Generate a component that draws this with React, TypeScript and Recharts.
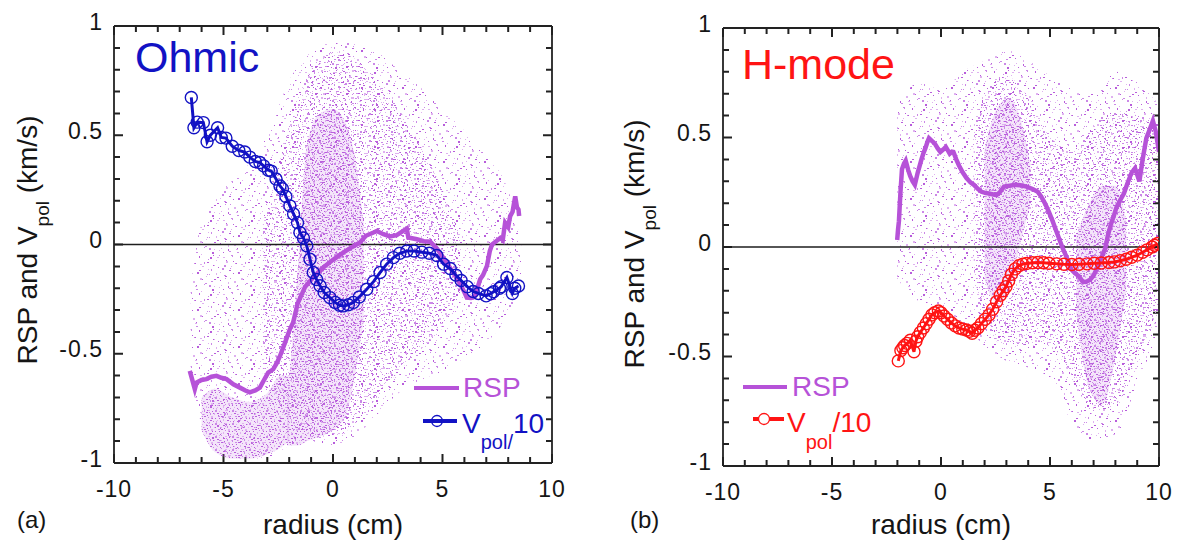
import { Area, ComposedChart, Legend, Line, ReferenceLine, XAxis, YAxis } from "recharts";

type Pt = [number, number];
type Band = [number, number, number]; // x, low, high

// ---- axes ----
const X_TICKS = [-10, -9, -8, -7, -6, -5, -4, -3, -2, -1, 0, 1, 2, 3, 4, 5, 6, 7, 8, 9, 10];
const Y_TICKS = [-1, -0.9, -0.8, -0.7, -0.6, -0.5, -0.4, -0.3, -0.2, -0.1, 0, 0.1, 0.2, 0.3, 0.4, 0.5, 0.6, 0.7, 0.8, 0.9, 1];
const X_LABELS = [-10, -5, 0, 5, 10];
const Y_LABELS = [-1, -0.5, 0, 0.5, 1];

// ---- (a) Ohmic ----
const ohmicVpol: Pt[] = [
  [-6.47, 0.673], [-6.35, 0.534], [-6.2, 0.56], [-5.92, 0.558], [-5.75, 0.47], [-5.6, 0.5],
  [-5.27, 0.534], [-5.1, 0.49], [-4.89, 0.487], [-4.6, 0.45], [-4.3, 0.43], [-4.03, 0.423],
  [-3.8, 0.4], [-3.55, 0.38], [-3.34, 0.375], [-3.17, 0.36], [-2.95, 0.34], [-2.82, 0.336],
  [-2.6, 0.3], [-2.42, 0.268], [-2.31, 0.255], [-2.15, 0.22], [-1.97, 0.177], [-1.8, 0.14],
  [-1.62, 0.1], [-1.51, 0.055], [-1.35, 0.03], [-1.2, -0.006], [-1.05, -0.067], [-0.9, -0.128],
  [-0.75, -0.16], [-0.59, -0.189], [-0.4, -0.22], [-0.14, -0.243], [0.1, -0.265], [0.3, -0.278],
  [0.47, -0.281], [0.7, -0.276], [0.93, -0.265], [1.2, -0.24], [1.54, -0.205], [1.85, -0.17],
  [2.15, -0.128], [2.45, -0.09], [2.76, -0.06], [3.05, -0.04], [3.37, -0.03], [3.7, -0.03],
  [4.06, -0.035], [4.4, -0.04], [4.74, -0.05], [5.05, -0.09], [5.35, -0.11], [5.61, -0.14],
  [5.85, -0.165], [6.13, -0.193], [6.4, -0.215], [6.64, -0.224], [6.99, -0.235], [7.2, -0.225],
  [7.33, -0.216], [7.6, -0.2], [7.68, -0.193], [7.94, -0.151], [8.19, -0.224], [8.3, -0.2],
  [8.47, -0.19],
];

const ohmicRsp: Pt[] = [
  [-6.54, -0.578], [-6.31, -0.662], [-6.23, -0.632], [-6.0, -0.62], [-5.78, -0.616], [-5.55, -0.605],
  [-5.32, -0.601], [-5.1, -0.61], [-4.86, -0.616], [-4.55, -0.64], [-4.25, -0.655], [-4.0, -0.668],
  [-3.8, -0.677], [-3.55, -0.668], [-3.34, -0.655], [-3.15, -0.62], [-2.96, -0.586], [-2.73, -0.571],
  [-2.55, -0.54], [-2.42, -0.51], [-2.19, -0.449], [-1.97, -0.388], [-1.82, -0.357], [-1.62, -0.272],
  [-1.27, -0.193], [-0.9, -0.15], [-0.5, -0.11], [0.0, -0.07], [0.5, -0.035], [0.9, -0.01],
  [1.23, 0.009], [1.5, 0.04], [1.85, 0.055], [2.0, 0.062], [2.3, 0.047], [2.6, 0.037],
  [2.91, 0.043], [3.21, 0.062], [3.37, 0.073], [3.44, 0.032], [3.83, 0.024], [4.15, 0.015],
  [4.44, 0.013], [4.75, -0.019], [5.1, -0.07], [5.5, -0.13], [5.8, -0.18], [5.96, -0.21],
  [6.11, -0.243], [6.3, -0.245], [6.47, -0.24], [6.72, -0.159], [6.85, -0.14], [7.03, -0.098],
  [7.16, -0.03], [7.26, 0.0], [7.45, 0.015], [7.64, 0.03], [7.75, 0.02], [7.86, 0.1],
  [8.0, 0.08], [8.09, 0.13], [8.2, 0.15], [8.32, 0.22], [8.4, 0.17], [8.47, 0.16], [8.5, 0.13],
];

// scatter cloud of RSP samples, read as envelopes of roughly equal dot density
const ohmicCloudSparse: Band[] = [
  [-6.5, -0.6, -0.2], [-6, -0.82, 0.1], [-5, -0.95, 0.25], [-4, -0.98, 0.35], [-3, -0.98, 0.5],
  [-2, -0.92, 0.75], [-1, -0.9, 0.88], [0, -0.92, 0.93], [1, -0.88, 0.92], [2, -0.78, 0.88],
  [3, -0.68, 0.8], [4, -0.62, 0.72], [5, -0.58, 0.62], [6, -0.52, 0.52], [7, -0.45, 0.4],
  [8, -0.32, 0.25], [8.6, -0.2, 0.0],
];
const ohmicCloudMedium: Band[] = [
  [-3.2, -0.6, 0.1], [-2.5, -0.72, 0.35], [-2, -0.8, 0.55], [-1, -0.88, 0.8], [0, -0.88, 0.88],
  [1, -0.82, 0.85], [2, -0.7, 0.75], [3, -0.58, 0.62], [4, -0.48, 0.45], [5, -0.38, 0.25],
  [5.8, -0.22, 0.05],
];
const ohmicCloudCore: Band[] = [
  [-2.1, -0.92, -0.75], [-1.6, -0.92, -0.1], [-1.2, -0.9, 0.45], [-0.6, -0.88, 0.6],
  [0, -0.85, 0.62], [0.6, -0.78, 0.55], [1.0, -0.6, 0.4], [1.4, -0.35, 0.1],
];
const ohmicCloudBlob: Band[] = [
  [-6.0, -0.85, -0.7], [-5.4, -0.95, -0.66], [-4.6, -0.98, -0.7], [-3.8, -0.98, -0.72],
  [-3.0, -0.96, -0.68], [-2.4, -0.93, -0.6], [-2.0, -0.9, -0.6],
];

// ---- (b) H-mode ----
const hmodeVpol: Pt[] = [
  [-1.96, -0.52], [-1.84, -0.473], [-1.75, -0.46], [-1.67, -0.45], [-1.55, -0.44], [-1.41, -0.426],
  [-1.24, -0.478], [-1.15, -0.43], [-1.07, -0.41], [-0.95, -0.39], [-0.81, -0.37], [-0.68, -0.35],
  [-0.55, -0.33], [-0.42, -0.31], [-0.29, -0.3], [-0.12, -0.292], [0.0, -0.3], [0.14, -0.315],
  [0.3, -0.33], [0.48, -0.347], [0.65, -0.36], [0.83, -0.37], [1.0, -0.375], [1.17, -0.379],
  [1.3, -0.385], [1.43, -0.394], [1.55, -0.38], [1.69, -0.37], [1.85, -0.35], [2.03, -0.33],
  [2.2, -0.31], [2.37, -0.284], [2.55, -0.25], [2.72, -0.22], [2.85, -0.2], [2.98, -0.181],
  [3.1, -0.155], [3.23, -0.125], [3.4, -0.1], [3.58, -0.085], [3.75, -0.078], [3.92, -0.075],
  [4.2, -0.072], [4.44, -0.071], [4.7, -0.072], [4.95, -0.074], [5.3, -0.077], [5.64, -0.079],
  [6.0, -0.08], [6.33, -0.079], [6.7, -0.077], [7.02, -0.074], [7.35, -0.073], [7.7, -0.071],
  [7.95, -0.068], [8.22, -0.063], [8.5, -0.056], [8.74, -0.047], [9.0, -0.037], [9.25, -0.024],
  [9.45, -0.013], [9.68, 0.0], [9.8, 0.008], [9.94, 0.016],
];

const hmodeRsp: Pt[] = [
  [-2.01, 0.032], [-1.97, 0.08], [-1.93, 0.118], [-1.86, 0.25], [-1.79, 0.355], [-1.7, 0.38],
  [-1.62, 0.394], [-1.5, 0.35], [-1.41, 0.323], [-1.3, 0.3], [-1.2, 0.284], [-1.07, 0.339],
  [-0.98, 0.37], [-0.89, 0.402], [-0.8, 0.43], [-0.72, 0.45], [-0.62, 0.48], [-0.55, 0.497],
  [-0.42, 0.485], [-0.29, 0.473], [-0.15, 0.45], [-0.03, 0.434], [0.1, 0.445], [0.22, 0.457],
  [0.32, 0.44], [0.4, 0.426], [0.5, 0.435], [0.57, 0.434], [0.7, 0.4], [0.83, 0.371],
  [1.0, 0.34], [1.17, 0.315], [1.35, 0.295], [1.51, 0.284], [1.7, 0.265], [1.86, 0.252],
  [2.03, 0.247], [2.2, 0.244], [2.4, 0.24], [2.55, 0.237], [2.7, 0.25], [2.89, 0.276],
  [3.15, 0.28], [3.4, 0.284], [3.65, 0.282], [3.92, 0.276], [4.2, 0.265], [4.44, 0.252],
  [4.6, 0.23], [4.78, 0.197], [4.95, 0.16], [5.12, 0.118], [5.3, 0.07], [5.47, 0.024],
  [5.6, -0.01], [5.73, -0.039], [5.85, -0.07], [5.98, -0.103], [6.15, -0.12], [6.33, -0.134],
  [6.5, -0.158], [6.65, -0.16], [6.84, -0.15], [7.0, -0.13], [7.19, -0.09], [7.35, -0.05],
  [7.53, -0.008], [7.65, 0.05], [7.79, 0.103], [7.92, 0.14], [8.05, 0.181], [8.2, 0.21],
  [8.39, 0.244], [8.55, 0.29], [8.74, 0.339], [8.9, 0.36], [9.1, 0.3], [9.25, 0.4],
  [9.42, 0.497], [9.55, 0.53], [9.72, 0.576], [9.85, 0.528], [10.0, 0.434],
];

const hmodeCloudSparse: Band[] = [
  [-2, -0.15, 0.65], [-1, -0.25, 0.75], [0, -0.3, 0.72], [1, -0.35, 0.8], [2, -0.45, 0.85],
  [3, -0.52, 0.9], [4, -0.55, 0.85], [5, -0.6, 0.78], [6, -0.8, 0.72], [7, -0.88, 0.7],
  [8, -0.86, 0.8], [9, -0.62, 0.75], [10, -0.4, 0.65],
];
const hmodeCloudMedium: Band[] = [
  [1.5, -0.1, 0.55], [2, -0.35, 0.7], [3, -0.45, 0.78], [4, -0.45, 0.68], [5, -0.45, 0.5],
  [6, -0.6, 0.45], [7, -0.75, 0.55], [8, -0.72, 0.62], [9, -0.5, 0.6], [10, -0.3, 0.52],
];
const hmodeCloudCoreA: Band[] = [
  [2, -0.15, 0.45], [2.5, -0.25, 0.62], [3.1, -0.2, 0.68], [3.6, 0.0, 0.6], [4.1, 0.2, 0.38],
];
const hmodeCloudCoreB: Band[] = [
  [6.2, -0.3, 0.05], [6.8, -0.65, 0.2], [7.4, -0.72, 0.28], [8.0, -0.5, 0.28], [8.5, -0.2, 0.12],
];

// ---- style ----
const FONT = '"Liberation Sans", Arial, Helvetica, sans-serif';
const INK = "#151515";
const FRAME = "#222222";
const PURPLE = "#b652d8";
const DOT_TONES = ["#b85ddb", "#cb88e7", "#dfb1f0"];
const BLUE = "#1212c4";
const RED = "#ff1414";

// dot textures that fill the cloud envelopes: x, y, w, h, tone
type Dot = [number, number, number, number, number];
const SPARSE_TILE: Dot[] = [
  [2, 3, 2, 1, 0], [11, 1, 1, 1, 2], [19, 6, 2, 2, 1], [28, 2, 1, 1, 0], [36, 5, 2, 1, 2],
  [6, 10, 1, 2, 1], [15, 13, 1, 1, 2], [24, 11, 2, 1, 0], [33, 14, 1, 1, 1], [1, 17, 1, 1, 2],
  [9, 20, 2, 1, 0], [20, 19, 1, 1, 1], [29, 22, 2, 2, 2], [38, 20, 1, 1, 0], [4, 26, 2, 2, 1],
  [14, 28, 1, 1, 2], [23, 27, 1, 2, 0], [32, 30, 2, 1, 1], [8, 33, 1, 1, 0], [18, 35, 2, 1, 2],
  [27, 34, 1, 1, 1], [37, 32, 1, 1, 2],
];
const MEDIUM_TILE: Dot[] = [
  [1, 1, 2, 1, 0], [7, 2, 1, 1, 2], [12, 0, 1, 2, 1], [18, 3, 2, 1, 0], [24, 1, 1, 1, 2],
  [28, 5, 2, 2, 1], [3, 6, 1, 1, 0], [9, 7, 2, 1, 1], [15, 8, 1, 1, 2], [21, 7, 1, 2, 0],
  [26, 10, 1, 1, 1], [0, 11, 1, 1, 2], [5, 12, 2, 2, 0], [11, 13, 1, 1, 1], [17, 12, 2, 1, 0],
  [23, 14, 1, 1, 2], [29, 13, 1, 1, 1], [2, 17, 2, 1, 0], [8, 18, 1, 1, 2], [14, 17, 2, 1, 1],
  [20, 19, 1, 1, 0], [25, 18, 2, 1, 2], [30, 20, 1, 1, 1], [4, 22, 1, 2, 0], [10, 23, 1, 1, 1],
  [16, 22, 1, 1, 2], [22, 24, 2, 1, 0], [27, 25, 1, 1, 1], [6, 26, 1, 1, 2], [13, 26, 2, 1, 0],
  [19, 26, 1, 1, 1], [0, 24, 1, 1, 0], [13, 4, 1, 1, 1], [24, 21, 1, 1, 0], [7, 15, 1, 1, 1],
  [19, 16, 1, 1, 2],
];
const DENSE_TILE: Dot[] = [
  [0, 0, 2, 1, 0], [4, 1, 1, 1, 1], [7, 0, 2, 2, 2], [11, 2, 1, 1, 0], [14, 0, 2, 1, 1],
  [2, 3, 1, 2, 2], [6, 4, 2, 1, 0], [9, 5, 1, 1, 1], [13, 4, 1, 1, 2], [16, 5, 1, 1, 0],
  [0, 6, 1, 1, 1], [4, 7, 2, 1, 2], [8, 8, 1, 1, 0], [11, 7, 2, 2, 1], [15, 8, 1, 1, 2],
  [2, 9, 2, 1, 0], [6, 10, 1, 2, 1], [10, 11, 1, 1, 2], [13, 10, 2, 1, 0], [0, 11, 1, 1, 2],
  [3, 12, 1, 1, 0], [16, 11, 1, 1, 1], [8, 2, 1, 1, 0], [5, 9, 1, 1, 1], [12, 6, 1, 1, 2],
  [15, 2, 1, 1, 0],
];

const toPoints = (pts: Pt[]) => pts.map(([x, y]) => ({ x, y }));
const toBand = (b: Band[]) => b.map(([x, lo, hi]) => ({ x, band: [lo, hi] }));

type TileProps = { id: string; w: number; h: number; dots: Dot[]; copies: Pt[]; wash?: number };
function Tile({ id, w, h, dots, copies, wash }: TileProps) {
  return (
    <pattern id={id} width={w} height={h} patternUnits="userSpaceOnUse">
      {wash ? <rect width={w} height={h} fill="#c87ce4" fillOpacity={wash} /> : null}
      {copies.map(([ox, oy], c) =>
        dots.map(([x, y, dw, dh, t], i) => (
          <rect
            key={`${c}-${i}`} x={(x + ox) % w} y={(y + oy) % h} width={dw} height={dh}
            fill={DOT_TONES[(t + c) % 3]} shapeRendering="crispEdges"
          />
        ))
      )}
    </pattern>
  );
}

function BottomLabel({ x, y, payload }: any) {
  const v = payload.value as number;
  if (!X_LABELS.includes(v)) return <g />;
  return (
    <text x={x} y={y + 34} textAnchor="middle" fontSize={23} fill={INK} fontFamily={FONT} letterSpacing={1}>
      {v}
    </text>
  );
}

function LeftLabel({ x, y, payload }: any) {
  const v = payload.value as number;
  if (!Y_LABELS.includes(v)) return <g />;
  return (
    <text x={x - 11} y={y + 3.5} textAnchor="end" fontSize={23} fill={INK} fontFamily={FONT} letterSpacing={1}>
      {v}
    </text>
  );
}

const NoLabel = () => <g />;

// inward frame ticks as one path string, laid out on the plot box given by the chart margins
type Box = { x0: number; x1: number; y0: number; y1: number };
function tickPath({ x0, x1, y0, y1 }: Box) {
  let d = "";
  X_TICKS.forEach((v) => {
    const px = (x0 + ((v + 10) / 20) * (x1 - x0)).toFixed(1);
    const len = X_LABELS.includes(v) ? 9 : 6;
    d += `M${px} ${y1}L${px} ${y1 - len}M${px} ${y0}L${px} ${y0 + len}`;
  });
  Y_TICKS.forEach((v) => {
    const py = (y1 - ((v + 1) / 2) * (y1 - y0)).toFixed(1);
    const len = Y_LABELS.includes(v) ? 9 : 6;
    d += `M${x0} ${py}L${x0 + len} ${py}M${x1} ${py}L${x1 - len} ${py}`;
  });
  return d;
}

function OhmicLegend() {
  return (
    <svg width={170} height={100} style={{ overflow: "visible", fontFamily: FONT }}>
      <line x1={14} x2={59} y1={28} y2={28} stroke={PURPLE} strokeWidth={4} />
      <text x={63} y={37} fontSize={28} fill={PURPLE}>RSP</text>
      <line x1={23} x2={57} y1={61} y2={61} stroke={BLUE} strokeWidth={4} />
      <circle cx={37} cy={61} r={5.5} fill="none" stroke={BLUE} strokeWidth={1.3} />
      <text x={62} y={73} fontSize={28} fill={BLUE}>
        V<tspan dy={16} fontSize={20}>pol/</tspan>
        <tspan dy={-16} fontSize={28}>10</tspan>
      </text>
    </svg>
  );
}

function HmodeLegend() {
  return (
    <svg width={170} height={100} style={{ overflow: "visible", fontFamily: FONT }}>
      <line x1={13} x2={57} y1={27} y2={27} stroke={PURPLE} strokeWidth={4} />
      <text x={62} y={36} fontSize={28} fill={PURPLE}>RSP</text>
      <line x1={23} x2={54} y1={59} y2={59} stroke={RED} strokeWidth={4} />
      <circle cx={34} cy={59} r={5.5} fill="#fff" stroke={RED} strokeWidth={1.3} />
      <text x={57} y={72} fontSize={28} fill={RED}>
        V<tspan dy={17} fontSize={20}>pol</tspan>
        <tspan dy={-17} fontSize={28}>/10</tspan>
      </text>
    </svg>
  );
}

type PanelProps = {
  id: string;
  margin: { top: number; right: number; bottom: number; left: number };
  clouds: { data: Band[]; fill: string }[];
  rsp: Pt[];
  vpol: Pt[];
  vpolColor: string;
  title: string;
  titleX: number;
  titleY: number;
  yTitleX: number;
  yTitleY: number;
  xTitleX: number;
  tag: string;
  tagX: number;
  legend: JSX.Element;
  legendLeft: number;
};

const W = 590;
const H = 542;
const LEFT_AXIS_W = 100;
const RIGHT_AXIS_W = 10;
const BOTTOM_AXIS_H = 40;
const TOP_AXIS_H = 10;
const axisLine = { stroke: FRAME, strokeWidth: 1.8 };

function Panel(p: PanelProps) {
  const box: Box = {
    x0: p.margin.left + LEFT_AXIS_W,
    x1: W - p.margin.right - RIGHT_AXIS_W,
    y0: p.margin.top + TOP_AXIS_H,
    y1: H - p.margin.bottom - BOTTOM_AXIS_H,
  };
  return (
    <ComposedChart width={W} height={H} margin={p.margin} style={{ fontFamily: FONT }}>
      <defs>
        <Tile id={`${p.id}-sparse`} w={41} h={37} dots={SPARSE_TILE} copies={[[0, 0], [17, 13], [29, 24]]} />
        <Tile id={`${p.id}-medium`} w={31} h={27} dots={MEDIUM_TILE} copies={[[0, 0], [14, 11]]} />
        <Tile id={`${p.id}-dense`} w={17} h={13} dots={DENSE_TILE} copies={[[0, 0]]} wash={0.2} />
      </defs>
      <XAxis
        dataKey="x" type="number" domain={[-10, 10]} ticks={X_TICKS} interval={0} allowDataOverflow
        height={BOTTOM_AXIS_H} tickSize={0} tickMargin={0} tickLine={false} axisLine={axisLine}
        tick={<BottomLabel />}
      />
      <XAxis
        xAxisId="top" orientation="top" dataKey="x" type="number" domain={[-10, 10]} ticks={X_TICKS}
        interval={0} height={TOP_AXIS_H} tickLine={false} axisLine={axisLine} tick={<NoLabel />}
      />
      <YAxis
        type="number" domain={[-1, 1]} ticks={Y_TICKS} interval={0} allowDataOverflow width={LEFT_AXIS_W}
        tickSize={0} tickMargin={0} tickLine={false} axisLine={axisLine} tick={<LeftLabel />}
      />
      <YAxis
        yAxisId="right" orientation="right" type="number" domain={[-1, 1]} ticks={Y_TICKS} interval={0}
        width={RIGHT_AXIS_W} tickLine={false} axisLine={axisLine} tick={<NoLabel />}
      />
      {p.clouds.map((c, i) => (
        <Area
          key={i} data={toBand(c.data)} dataKey="band" type="monotone" stroke="none"
          fill={c.fill} fillOpacity={1} dot={false} activeDot={false} legendType="none"
          isAnimationActive={false}
        />
      ))}
      <ReferenceLine y={0} stroke="#1e1e1e" strokeWidth={1.3} />
      <Line
        data={toPoints(p.rsp)} dataKey="y" name="RSP" type="linear" stroke={PURPLE} strokeWidth={4.5}
        dot={false} activeDot={false} isAnimationActive={false}
      />
      <Line
        data={toPoints(p.vpol)} dataKey="y" name="Vpol/10" type="linear" stroke={p.vpolColor} strokeWidth={3}
        dot={{ r: 6, fill: "none", stroke: p.vpolColor, strokeWidth: 1.4 }} activeDot={false}
        isAnimationActive={false}
      />
      <Legend
        layout="horizontal" verticalAlign="middle" align="center"
        wrapperStyle={{ left: p.legendLeft, top: 360, width: 170, height: 100 }}
        content={() => p.legend}
      />
      <path d={tickPath(box)} stroke={FRAME} strokeWidth={2} fill="none" />
      <text x={p.titleX} y={p.titleY} fontSize={43} fill={p.vpolColor} fontFamily={FONT}>{p.title}</text>
      <text
        x={p.yTitleX} y={p.yTitleY} textAnchor="middle" fontSize={28} fill={INK} fontFamily={FONT}
        transform={`rotate(-90 ${p.yTitleX} ${p.yTitleY})`}
      >
        RSP and V<tspan dy={12} fontSize={19}>pol</tspan>
        <tspan dy={-12} fontSize={28}> (km/s)</tspan>
      </text>
      <text x={p.xTitleX} y={534} textAnchor="middle" fontSize={28} fill={INK} fontFamily={FONT}>radius (cm)</text>
      <text x={p.tagX} y={528} fontSize={24} fill={INK} fontFamily={FONT}>{p.tag}</text>
    </ComposedChart>
  );
}

export default function App() {
  return (
    <div style={{ position: "absolute", left: 0, top: 0, width: 1180, height: 542, background: "#fff" }}>
      <div style={{ position: "absolute", left: 0, top: 0 }}>
        <Panel
          id="ohmic"
          margin={{ top: 16, right: 28, bottom: 39, left: 14 }}
          clouds={[
            { data: ohmicCloudSparse, fill: "url(#ohmic-sparse)" },
            { data: ohmicCloudMedium, fill: "url(#ohmic-medium)" },
            { data: ohmicCloudCore, fill: "url(#ohmic-dense)" },
            { data: ohmicCloudBlob, fill: "url(#ohmic-dense)" },
          ]}
          rsp={ohmicRsp}
          vpol={ohmicVpol}
          vpolColor={BLUE}
          title="Ohmic"
          titleX={135}
          titleY={72}
          yTitleX={37}
          yTitleY={240}
          xTitleX={333}
          tag="(a)"
          tagX={17}
          legend={<OhmicLegend />}
          legendLeft={400}
        />
      </div>
      <div style={{ position: "absolute", left: 590, top: 0 }}>
        <Panel
          id="hmode"
          margin={{ top: 18, right: 11, bottom: 36, left: 33 }}
          clouds={[
            { data: hmodeCloudSparse, fill: "url(#hmode-sparse)" },
            { data: hmodeCloudMedium, fill: "url(#hmode-medium)" },
            { data: hmodeCloudCoreA, fill: "url(#hmode-dense)" },
            { data: hmodeCloudCoreB, fill: "url(#hmode-dense)" },
          ]}
          rsp={hmodeRsp}
          vpol={hmodeVpol}
          vpolColor={RED}
          title="H-mode"
          titleX={152}
          titleY={79}
          yTitleX={54}
          yTitleY={244}
          xTitleX={351}
          tag="(b)"
          tagX={40}
          legend={<HmodeLegend />}
          legendLeft={140}
        />
      </div>
    </div>
  );
}
